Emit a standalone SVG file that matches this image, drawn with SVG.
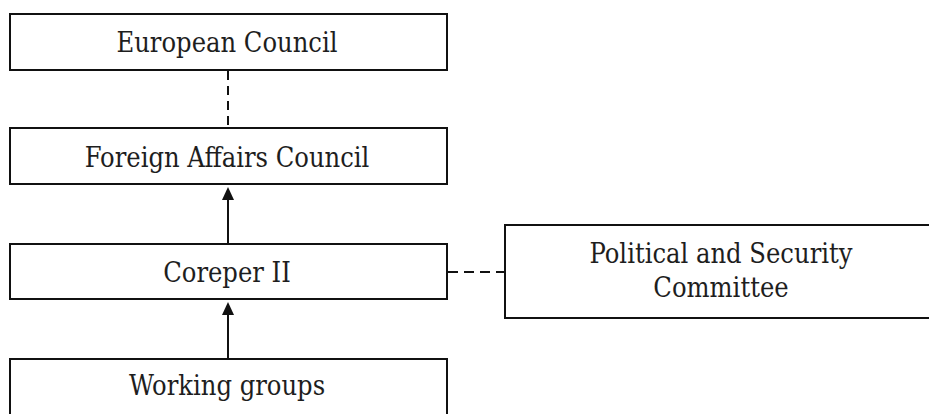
<svg xmlns="http://www.w3.org/2000/svg" width="929" height="414" viewBox="0 0 929 414">
<style>
.box{fill:#fff;stroke:#111;stroke-width:2}
.t{font-family:'DejaVu Serif Condensed','DejaVu Serif',serif;font-stretch:condensed;font-size:27px;fill:#1e1e1e;text-anchor:middle}
.line{stroke:#111;stroke-width:2;fill:none}
.dash{stroke:#111;stroke-width:2;fill:none;stroke-dasharray:9 6}
.head{fill:#111}
</style>
<g id="connectors">
<line class="dash" x1="228" y1="71" x2="228" y2="128"/>
<line class="line" x1="228" y1="243" x2="228" y2="195"/>
<path class="head" d="M228,187 L234,200 L222,200 Z"/>
<line class="line" x1="228" y1="359" x2="228" y2="310"/>
<path class="head" d="M228,302 L234,315 L222,315 Z"/>
<line class="dash" x1="448" y1="272" x2="505" y2="272" style="stroke-dasharray:10 6"/>
</g>
<g id="european-council">
<rect class="box" x="10" y="14" width="437" height="56"/>
<text class="t" x="227" y="52">European Council</text>
</g>
<g id="foreign-affairs-council">
<rect class="box" x="10" y="128" width="437" height="56"/>
<text class="t" x="227" y="167">Foreign Affairs Council</text>
</g>
<g id="coreper-ii">
<rect class="box" x="10" y="244" width="437" height="55"/>
<text class="t" x="227" y="282">Coreper II</text>
</g>
<g id="working-groups">
<rect class="box" x="10" y="359" width="437" height="70"/>
<text class="t" x="227" y="395">Working groups</text>
</g>
<g id="psc">
<rect class="box" x="505" y="225" width="440" height="93"/>
<text class="t" x="721" y="263">Political and Security</text>
<text class="t" x="721" y="297">Committee</text>
</g>
</svg>
